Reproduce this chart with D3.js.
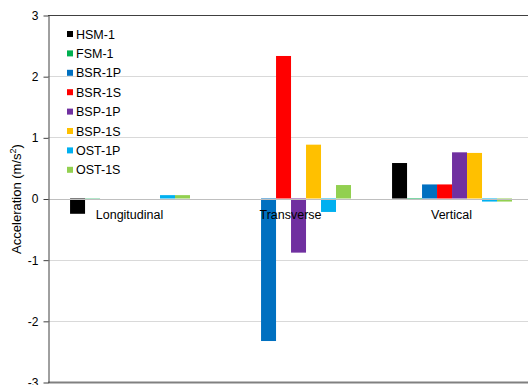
<!DOCTYPE html>
<html>
<head>
<meta charset="utf-8">
<script src="https://cdn.jsdelivr.net/npm/d3@7"></script>
<style>
  html, body { margin: 0; padding: 0; background: #fff; }
  svg { display: block; font-family: "Liberation Sans", Arial, sans-serif; }
</style>
</head>
<body>
<svg id="chart" width="528" height="385"></svg>
<script>
// Directions of measurement
const categories = ["Longitudinal", "Transverse", "Vertical"];

// Sensor series and their colours
const seriesNames = ["HSM-1", "FSM-1", "BSR-1P", "BSR-1S", "BSP-1P", "BSP-1S", "OST-1P", "OST-1S"];
const seriesColors = ["#000000", "#00b050", "#0070c0", "#ff0000", "#7030a0", "#ffc000", "#00b0f0", "#92d050"];

// Acceleration (m/s²) per series, in category order
const hsm1  = [-0.25, 0.00, 0.58];
const fsm1  = [0.005, 0.00, -0.01];
const bsr1p = [0.00, -2.33, 0.23];
const bsr1s = [0.00, 2.33, 0.23];
const bsp1p = [0.00, -0.885, 0.755];
const bsp1s = [0.00, 0.88, 0.745];
const ost1p = [0.055, -0.22, -0.05];
const ost1s = [0.055, 0.22, -0.05];

const yTicks = [-3, -2, -1, 0, 1, 2, 3];

const seriesValues = [hsm1, fsm1, bsr1p, bsr1s, bsp1p, bsp1s, ost1p, ost1s];

const svg = d3.select("#chart");
const W = 528, H = 385;
const x0 = 48, x1 = 531;
const yTop = 15, yBot = 383;

const x = d3.scaleBand().domain(categories).range([x0, x1]).paddingInner(0).paddingOuter(0);
// bars in a group occupy the middle of each category band
const xs = d3.scaleBand().domain(seriesNames)
  .range([x.bandwidth() * 0.137, x.bandwidth() * 0.882]).padding(0);
const y = d3.scaleLinear().domain([-3, 3]).range([yBot - 1, yTop]);

// Grid lines
svg.append("g").selectAll("line")
  .data(yTicks.filter(t => t !== 0 && Math.abs(t) !== 3))
  .join("line")
  .attr("x1", x0).attr("x2", W)
  .attr("y1", d => Math.round(y(d)) + 0.5).attr("y2", d => Math.round(y(d)) + 0.5)
  .attr("stroke", "#d9d9d9").attr("stroke-width", 1);

// Bars
const groups = svg.append("g").selectAll("g")
  .data(categories)
  .join("g")
  .attr("transform", d => `translate(${x(d)},0)`);

groups.selectAll("rect")
  .data((c, ci) => seriesNames.map((s, si) => ({ s, v: seriesValues[si][ci], color: seriesColors[si] })))
  .join("rect")
  .attr("x", d => xs(d.s))
  .attr("width", xs.bandwidth())
  .attr("y", d => Math.min(y(d.v), y(0)))
  .attr("height", d => Math.abs(y(d.v) - y(0)))
  .attr("fill", d => d.color);

// Zero line
svg.append("line")
  .attr("x1", x0).attr("x2", W)
  .attr("y1", Math.round(y(0)) + 0.5).attr("y2", Math.round(y(0)) + 0.5)
  .attr("stroke", "#bfbfbf").attr("stroke-width", 1);

// Plot frame top and bottom
svg.append("line")
  .attr("x1", x0).attr("x2", W)
  .attr("y1", Math.round(y(3)) + 0.5).attr("y2", Math.round(y(3)) + 0.5)
  .attr("stroke", "#404040").attr("stroke-width", 1);
svg.append("line")
  .attr("x1", x0).attr("x2", W)
  .attr("y1", Math.round(y(-3)) + 0.5).attr("y2", Math.round(y(-3)) + 0.5)
  .attr("stroke", "#808080").attr("stroke-width", 2);

// Y axis
const yAxis = svg.append("g")
  .attr("transform", `translate(${x0 + 0.5},0.5)`)
  .call(d3.axisLeft(y).tickValues(yTicks).tickSize(5).tickSizeOuter(0).tickFormat(d3.format("d")));
yAxis.select(".domain").attr("stroke", "#404040");
yAxis.selectAll(".tick line").attr("stroke", "#404040");
yAxis.selectAll(".tick text")
  .attr("x", -10)
  .attr("font-size", 12)
  .attr("font-family", "'Liberation Sans', Arial, sans-serif")
  .attr("fill", "#000")
  .text(d => d < 0 ? "-" + Math.abs(d) : d);

// Category labels just below zero line
svg.append("g").selectAll("text")
  .data(categories)
  .join("text")
  .attr("x", d => x(d) + x.bandwidth() / 2 + 1)
  .attr("y", y(0) + 20)
  .attr("text-anchor", "middle")
  .attr("font-size", 12.5)
  .attr("fill", "#000")
  .text(d => d);

// Y axis title
const title = svg.append("text")
  .attr("transform", `translate(21,${199}) rotate(-90)`)
  .attr("text-anchor", "middle")
  .attr("font-size", 13)
  .attr("fill", "#000");
title.append("tspan").text("Acceleration (m/s");
title.append("tspan").attr("baseline-shift", "super").attr("font-size", 9).text("2");
title.append("tspan").text(")");

// Legend
const legend = svg.append("g").selectAll("g")
  .data(seriesNames)
  .join("g")
  .attr("transform", (d, i) => `translate(67,${34 + i * 19.4})`);
legend.append("rect")
  .attr("x", 0).attr("y", -3).attr("width", 6).attr("height", 6)
  .attr("fill", (d, i) => seriesColors[i]);
legend.append("text")
  .attr("x", 9).attr("y", 4.5)
  .attr("font-size", 12.5)
  .attr("fill", "#000")
  .text(d => d);
</script>
</body>
</html>
